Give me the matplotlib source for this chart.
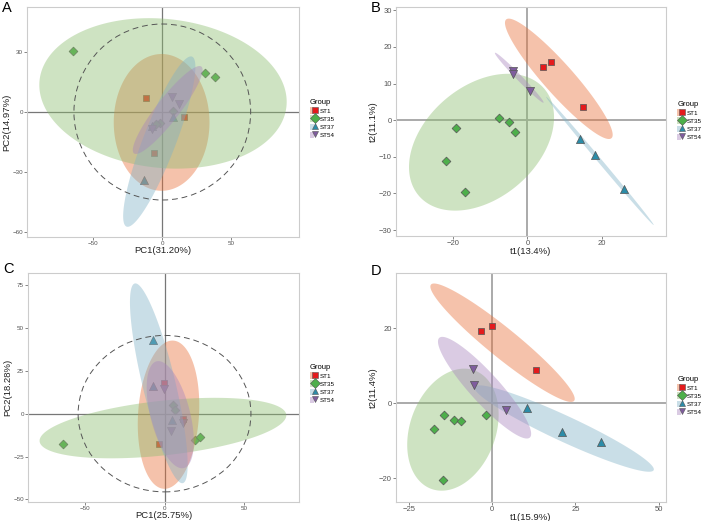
import numpy as np
import matplotlib
matplotlib.use("Agg")
import matplotlib.pyplot as plt
from matplotlib.patches import Ellipse, Patch
from matplotlib.lines import Line2D
from matplotlib.legend_handler import HandlerTuple

plt.rcParams['font.family'] = ['Liberation Sans', 'DejaVu Sans']

groups = ['ST1', 'ST35', 'ST37', 'ST54']
point_colors = ['#E41A1C', '#4DAF4A', '#2B8CA8', '#7F5C9E']
fill_colors = ['#E96F37', '#8CBD6F', '#80B2C6', '#A785BD']
markers = ['s', 'D', '^', 'v']
msizes = [22, 20, 34, 34]

# ---- panel A : PCA ----
a_x = [[-11.6, 15.7, -5.8],
       [-64.5, 30.7, 38.4, 7.8, -2.0, -4.3],
       [7.5, -7.5, -13.0],
       [7.0, 12.1, -7.5]]
a_y = [[7.2, -2.3, -20.5],
       [30.7, 19.3, 17.5, 0.3, -5.3, -6.2],
       [-2.7, -7.0, -34.2],
       [7.7, 4.2, -8.7]]
# ellipse: centre x, centre y, tip of major axis x, y, minor/major ratio
a_ell = [(-0.5, -5.2, -0.5, 29.0, 0.70),
         (0.5, 9.3, 89.9, 2.7, 0.60),
         (-2.2, -14.8, 21.5, 27.7, 0.18),
         (3.9, 1.0, 28.3, 22.7, 0.21)]
a_circle = (64, 44)

# ---- panel B : PLS-DA ----
b_x = [[4.1, 6.2, 14.9],
       [-7.7, -5.0, -3.3, -19.1, -21.7, -16.8],
       [14.2, 18.1, 25.9],
       [-3.9, -4.0, 0.7]]
b_y = [[14.6, 16.0, 3.5],
       [0.6, -0.5, -3.2, -2.2, -11.1, -19.5],
       [-5.0, -9.5, -18.9],
       [13.3, 12.7, 8.1]]
b_ell = [(8.4, 11.3, 22.5, -4.9, 0.19),
         (-12.3, -6.0, 4.5, 8.6, 0.68),
         (19.4, -11.1, 33.8, -28.6, 0.025),
         (-2.2, 11.6, 4.3, 4.8, 0.08)]

# ---- panel C : PCA ----
c_x = [[-0.3, 11.7, -3.6],
       [5.4, 6.5, -63.8, 19.1, 22.2],
       [-7.2, -7.5, 4.4],
       [-0.3, 11.7, 4.0]]
c_y = [[17.9, -2.9, -17.5],
       [5.2, 2.3, -17.5, -15.2, -13.6],
       [43.1, 15.9, -3.9],
       [14.4, -5.4, -10.3]]
c_ell = [(2.5, -0.6, 5.5, 42.6, 0.41),
         (-1.0, -8.4, 76.5, -0.6, 0.22),
         (-3.6, 17.7, -18.7, 75.9, 0.16),
         (3.6, -0.6, -5.0, 30.5, 0.36)]
c_circle = (54.3, 45.6)

# ---- panel D : PLS-DA ----
d_x = [[-3.4, -0.1, 13.2],
       [-17.5, -14.5, -11.4, -9.3, -1.8, -14.7],
       [10.5, 21.0, 32.6],
       [-5.7, -5.6, 4.1]]
d_y = [[19.3, 20.6, 8.8],
       [-6.7, -3.2, -4.3, -4.6, -3.0, -20.5],
       [-1.3, -7.5, -10.4],
       [9.3, 4.8, -1.7]]
d_ell = [(3.1, 16.2, 24.6, 0.7, 0.16),
         (-11.8, -7.0, -5.3, 8.8, 0.68),
         (21.6, -6.7, 48.5, -17.8, 0.13),
         (-2.3, 4.2, 11.3, -9.1, 0.22)]

W, H = 702, 521
fig = plt.figure(figsize=(W / 100, H / 100), dpi=100)


def px_axes(l, r, t, b):
    return fig.add_axes([l / W, 1 - b / H, (r - l) / W, (b - t) / H])


def draw_ell(ax, e, color, z):
    cx, cy, tx, ty, ratio = e
    T = ax.transData
    c = T.transform((cx, cy))
    u = T.transform((tx, ty)) - c
    v = np.array([-u[1], u[0]]) * ratio
    th = np.linspace(0, 2 * np.pi, 240)
    pts = c + np.outer(np.cos(th), u) + np.outer(np.sin(th), v)
    d = T.inverted().transform(pts)
    ax.fill(d[:, 0], d[:, 1], color=color, alpha=0.42, lw=0, zorder=z)


def panel(rect, letter, letter_y, xs, ys, ells, xlim, ylim, xt, yt, xl, yl,
          circle=None, pts_on_top=True, zero_c='#777777', zero_w=0.9,
          tick_fs=4.5, leg_xy=(0, 0)):
    ax = px_axes(*rect)
    ax.set_xlim(*xlim)
    ax.set_ylim(*ylim)
    ax.set_xticks(xt)
    ax.set_yticks(yt)
    for s in ax.spines.values():
        s.set_color('#CCCCCC')
        s.set_linewidth(0.8)
    ax.tick_params(labelsize=tick_fs, colors='#555555', length=2, width=0.5, pad=1)
    ax.set_xlabel(xl, fontsize=6.8, labelpad=0, color='#222222')
    ax.set_ylabel(yl, fontsize=6.8, labelpad=1, color='#222222')
    ax.axhline(0, color=zero_c, lw=zero_w, zorder=1)
    ax.axvline(0, color=zero_c, lw=zero_w, zorder=1)
    pz = 10 if pts_on_top else 2
    for i in range(4):
        draw_ell(ax, ells[i], fill_colors[i], 3 + i)
        ax.scatter(xs[i], ys[i], s=msizes[i], marker=markers[i], c=point_colors[i],
                   edgecolors='#555555', linewidths=0.5, zorder=pz)
    if circle is not None:
        ax.add_patch(Ellipse((0, 0), 2 * circle[0], 2 * circle[1], fill=False,
                             ls=(0, (6, 4)), ec='#555555', lw=0.7, zorder=9))
    fig.text((rect[0] - 20) / W, 1 - letter_y / H, letter, fontsize=10.5,
             ha='center', va='top')
    handles = [(Patch(facecolor=fill_colors[i], alpha=0.42, lw=0),
                Line2D([], [], ls='none', marker=markers[i], ms=4.8 if i != 0 else 4.2,
                       mfc=point_colors[i], mec='#555555', mew=0.4))
               for i in range(4)]
    leg = ax.legend(handles, groups, title='Group', loc='upper left',
                    bbox_to_anchor=(leg_xy[0] / W, 1 - leg_xy[1] / H),
                    bbox_transform=fig.transFigure, frameon=False,
                    fontsize=4.5, title_fontsize=5.5, handlelength=1.1,
                    handleheight=1.3, handletextpad=0.4, labelspacing=0.2,
                    borderpad=0, handler_map={tuple: HandlerTuple(ndivide=None)})
    leg._legend_box.align = 'left'
    return ax


panel((27, 299, 7, 237), 'A', 1.5, a_x, a_y, a_ell, (-98, 99), (-62.5, 52.5),
      [-50, 0, 50], [-60, -30, 0, 30], 'PC1(31.20%)', 'PC2(14.97%)',
      circle=a_circle, pts_on_top=False, leg_xy=(307, 96))
panel((396, 666, 7, 236), 'B', 1.5, b_x, b_y, b_ell, (-35.2, 37.1), (-31.6, 30.9),
      [-20, 0, 20], [-30, -20, -10, 0, 10, 20, 30], 't1(13.4%)', 't2(11.1%)',
      zero_c='#AAAAAA', zero_w=1.4, tick_fs=5.5, leg_xy=(674, 98))
panel((28, 299, 273, 502), 'C', 262, c_x, c_y, c_ell, (-85.8, 84.5), (-51.5, 82),
      [-50, 0, 50], [-50, -25, 0, 25, 50, 75], 'PC1(25.75%)', 'PC2(18.28%)',
      circle=c_circle, pts_on_top=False, leg_xy=(307, 361))
panel((396, 666, 273, 502), 'D', 264, d_x, d_y, d_ell, (-28.9, 52.2), (-26.3, 34.8),
      [-25, 0, 25, 50], [-20, 0, 20], 't1(15.9%)', 't2(11.4%)',
      zero_c='#AAAAAA', zero_w=1.4, tick_fs=5.5, leg_xy=(674, 373))

fig.savefig('out.png', dpi=100)
